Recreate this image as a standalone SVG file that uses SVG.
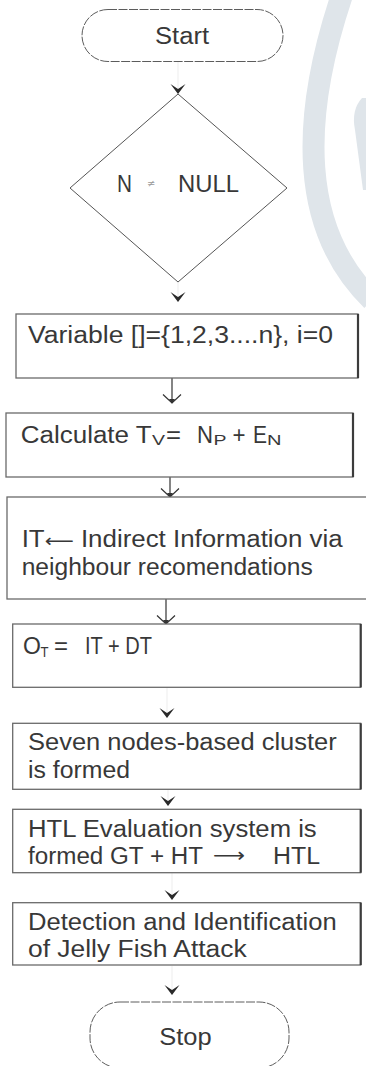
<svg xmlns="http://www.w3.org/2000/svg" width="366" height="1066" viewBox="0 0 366 1066">
<style>
.t{font-family:"Liberation Sans",Arial,sans-serif;font-size:23px;fill:#383838}
.sub{font-family:"Liberation Sans",Arial,sans-serif;font-size:14px;fill:#383838}
.arr{font-family:"DejaVu Sans",sans-serif;font-size:20px;fill:#383838}
.box{fill:#fff;stroke:#6a6a6a;stroke-width:1.3}
.edge{stroke:#3c3c3c;stroke-width:2.2}
.term{fill:#fff;stroke:#4a4a4a;stroke-width:0.9;stroke-dasharray:9 1.5}
.dia{fill:none;stroke:#555;stroke-width:1}
.solid{stroke:#333;stroke-width:1.2;fill:none}
.faint{stroke:#ededed;stroke-width:1;fill:none}
</style>
<defs>
<marker id="dart" markerUnits="userSpaceOnUse" viewBox="-11 -8 12 16" refX="0" refY="0" markerWidth="12" markerHeight="16" orient="auto">
<path d="M0,0 L-10,-7.5 L-5,0 L-10,7.5 Z" fill="#2a2a2a"/>
</marker>
<marker id="open" markerUnits="userSpaceOnUse" viewBox="-10 -10 11 20" refX="0" refY="0" markerWidth="11" markerHeight="20" orient="auto">
<path d="M-8.5,-9 L0,0 L-8.5,9" fill="none" stroke="#333" stroke-width="1.2"/>
<path d="M0.5,0 L-4,-3 L-4,3 Z" fill="#333"/>
</marker>
</defs>
<rect width="366" height="1066" fill="#fff"/>
<g id="watermark" fill="#dfe5ea" stroke="none">
<path d="M342,-5 C300,120 300,230 372,300" fill="none" stroke="#dfe5ea" stroke-width="22"/>
<path d="M362,98 Q351,110 355,130 L363,190 L366,190 L366,98 Z"/>
</g>
<g id="connectors">
<path class="faint" d="M178,62 V94" marker-end="url(#dart)"/>
<path class="faint" d="M178,282 V302" marker-end="url(#dart)"/>
<path class="solid" d="M172,378 V403" marker-end="url(#open)"/>
<path class="solid" d="M170,477 V497" marker-end="url(#open)"/>
<path class="solid" d="M166,599 V624" marker-end="url(#open)"/>
<path class="faint" d="M167,688 V718" marker-end="url(#dart)"/>
<path class="faint" d="M168,790 V806" marker-end="url(#dart)"/>
<path class="faint" d="M172,873 V900" marker-end="url(#dart)"/>
<path class="faint" d="M172,966 V995" marker-end="url(#dart)"/>
</g>
<g id="start">
<rect class="term" x="82" y="9.5" width="201" height="52" rx="26"/>
<text class="t" x="155" y="43.5" textLength="54" lengthAdjust="spacingAndGlyphs">Start</text>
</g>
<g id="decision">
<path class="dia" d="M178,94 L287,188 L178,282 L70,188 Z"/>
<text class="t" x="117" y="191.5" textLength="15" lengthAdjust="spacingAndGlyphs">N</text>
<text x="147" y="187" font-family="'DejaVu Sans',sans-serif" font-size="10" fill="#9a9a9a">≠</text>
<text class="t" x="178" y="191.5" textLength="61" lengthAdjust="spacingAndGlyphs">NULL</text>
</g>
<g id="n1">
<rect class="box" x="16" y="314" width="342" height="64"/>
<line class="edge" x1="358" y1="314" x2="358" y2="378"/>
<text class="t" x="28" y="343" textLength="305" lengthAdjust="spacingAndGlyphs">Variable []={1,2,3....n}, i=0</text>
</g>
<g id="n2">
<rect class="box" x="6" y="413" width="347" height="64"/>
<line class="edge" x1="353" y1="413" x2="353" y2="477"/>
<text class="t" x="20.7" y="443" textLength="131" lengthAdjust="spacingAndGlyphs">Calculate T</text>
<text class="sub" x="152" y="445" textLength="13" lengthAdjust="spacingAndGlyphs">V</text>
<text class="t" x="166" y="443" textLength="15" lengthAdjust="spacingAndGlyphs">=</text>
<text class="t" x="197" y="443" textLength="16" lengthAdjust="spacingAndGlyphs">N</text>
<text class="sub" x="213.5" y="445" textLength="13" lengthAdjust="spacingAndGlyphs">P</text>
<text class="t" x="232.5" y="443" textLength="13" lengthAdjust="spacingAndGlyphs">+</text>
<text class="t" x="253" y="443" textLength="14" lengthAdjust="spacingAndGlyphs">E</text>
<text class="sub" x="267" y="445" textLength="14.5" lengthAdjust="spacingAndGlyphs">N</text>
</g>
<g id="n3">
<rect class="box" x="7" y="497" width="366" height="102"/>
<text class="t" x="21.7" y="546.7" textLength="321" lengthAdjust="spacingAndGlyphs">IT<tspan font-family="'DejaVu Sans',sans-serif" font-size="18">⟵</tspan> Indirect Information via</text>
<text class="t" x="21.7" y="575" textLength="291" lengthAdjust="spacingAndGlyphs">neighbour recomendations</text>
</g>
<g id="n4">
<rect class="box" x="12.7" y="624" width="348" height="63.3"/>
<line class="edge" x1="360.7" y1="624" x2="360.7" y2="687.3"/>
<text class="t" x="23" y="654" font-size="20">O</text>
<text class="sub" x="40.5" y="656.5" textLength="8" lengthAdjust="spacingAndGlyphs">T</text>
<text class="t" x="54" y="654" textLength="14" lengthAdjust="spacingAndGlyphs">=</text>
<text class="t" x="85" y="654" textLength="67" lengthAdjust="spacingAndGlyphs">IT + DT</text>
</g>
<g id="n5">
<rect class="box" x="12.7" y="723.3" width="348" height="66"/>
<line class="edge" x1="360.7" y1="723.3" x2="360.7" y2="789.3"/>
<text class="t" x="28" y="749.5" textLength="308.7" lengthAdjust="spacingAndGlyphs">Seven nodes-based cluster</text>
<text class="t" x="28" y="777.5" textLength="102" lengthAdjust="spacingAndGlyphs">is formed</text>
</g>
<g id="n6">
<rect class="box" x="12.7" y="809.3" width="348" height="63.4"/>
<line class="edge" x1="360.7" y1="809.3" x2="360.7" y2="872.7"/>
<text class="t" x="28" y="836.5" textLength="288.7" lengthAdjust="spacingAndGlyphs">HTL Evaluation system is</text>
<text class="t" x="28" y="864" textLength="175" lengthAdjust="spacingAndGlyphs">formed GT + HT</text>
<text class="arr" x="213" y="862" textLength="32" lengthAdjust="spacingAndGlyphs">⟶</text>
<text class="t" x="273" y="864" textLength="47" lengthAdjust="spacingAndGlyphs">HTL</text>
</g>
<g id="n7">
<rect class="box" x="12.7" y="902.7" width="348" height="62.3"/>
<line class="edge" x1="360.7" y1="902.7" x2="360.7" y2="965"/>
<text class="t" x="28" y="930" textLength="308.7" lengthAdjust="spacingAndGlyphs">Detection and Identification</text>
<text class="t" x="28" y="957" textLength="218.7" lengthAdjust="spacingAndGlyphs">of Jelly Fish Attack</text>
</g>
<g id="stop">
<rect class="term" x="90" y="1002" width="199" height="66" rx="30"/>
<text class="t" x="159.3" y="1045" textLength="52.4" lengthAdjust="spacingAndGlyphs">Stop</text>
</g>
</svg>
